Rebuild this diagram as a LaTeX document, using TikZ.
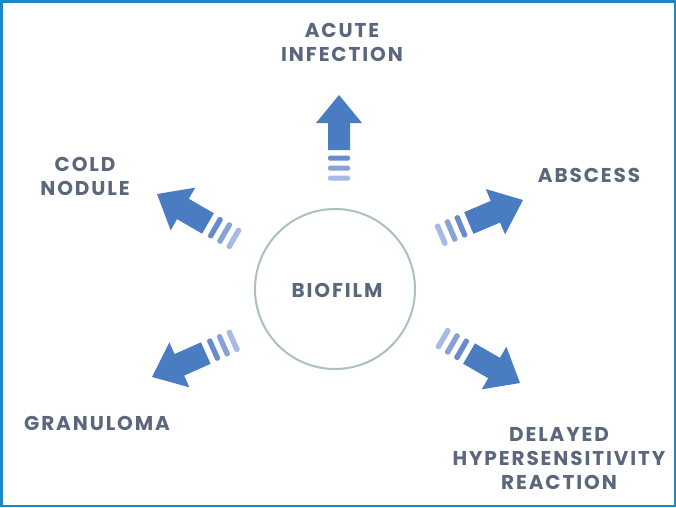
\documentclass[tikz,border=0pt]{standalone}
\usepackage{fontspec}
\setmainfont{Poppins}[LetterSpace=9.5]
\definecolor{framebl}{RGB}{27,138,195}
\definecolor{arrowbl}{RGB}{74,124,194}
\definecolor{dashA}{RGB}{104,139,204}
\definecolor{dashB}{RGB}{134,162,214}
\definecolor{dashC}{RGB}{166,186,228}
\definecolor{txt}{RGB}{90,103,124}
\definecolor{ring}{RGB}{172,192,190}
\tikzset{
  lbl/.style={font=\fontsize{20}{24}\selectfont\bfseries, text=txt, align=center, inner sep=0pt},
  bigarrow/.pic={
    \fill[arrowbl] (0pt,0pt) -- (-28pt,23pt) -- (-28pt,11pt) -- (-55pt,11pt) -- (-55pt,-11pt) -- (-28pt,-11pt) -- (-28pt,-23pt) -- cycle;
    \fill[dashA, rounded corners=1.5pt] (-65.5pt,-11pt) rectangle (-60.5pt,11pt);
    \fill[dashB, rounded corners=1.5pt] (-75.5pt,-11pt) rectangle (-70.5pt,11pt);
    \fill[dashC, rounded corners=1.5pt] (-85.5pt,-11pt) rectangle (-80.5pt,11pt);
  }
}
\begin{document}
\begin{tikzpicture}[x=1pt,y=-1pt]
\useasboundingbox (0,0) rectangle (676,507);
\fill[white] (0,0) rectangle (676,507);
\draw[framebl, line width=2.5pt] (1.25,1.25) rectangle (674.75,505.75);
\node[circle, draw=ring, line width=2pt, minimum size=160pt] (bio) at (335,289) {};
\node[lbl] (biotxt) at (337,290) {BIOFILM};
\node[lbl] (acute) at (342,42) {ACUTE\\INFECTION};
\node[lbl] (cold) at (85,176) {COLD\\NODULE};
\node[lbl] (abscess) at (589,175) {ABSCESS};
\node[lbl] (gran) at (97,423) {GRANULOMA};
\node[lbl] (delayed) at (559,459) {DELAYED\\HYPERSENSITIVITY\\REACTION};
\pic[rotate=90] at (339,95) {bigarrow};
\pic[rotate=150, scale=1.07] at (157,194) {bigarrow};
\pic[rotate=23, scale=1.07] at (523,200) {bigarrow};
\pic[rotate=204, scale=1.07] at (152,377) {bigarrow};
\pic[rotate=-30, scale=1.07] at (520,383) {bigarrow};
\end{tikzpicture}
\end{document}
